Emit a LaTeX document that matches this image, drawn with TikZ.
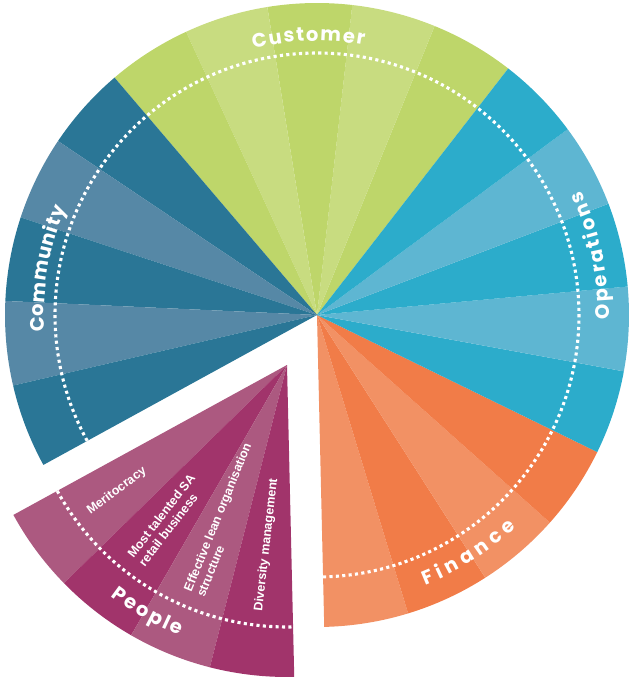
\documentclass[tikz,border=0pt]{standalone}
\usepackage{fontspec}
\setmainfont{Liberation Sans}
\newfontfamily\labelfont{Poppins}
\usetikzlibrary{decorations.text}
\definecolor{custdark}{HTML}{BED66A}
\definecolor{custlight}{HTML}{C8DC80}
\definecolor{comdark}{HTML}{2A7696}
\definecolor{comlight}{HTML}{5688A6}
\definecolor{ppldark}{HTML}{A1346B}
\definecolor{ppllight}{HTML}{AC5980}
\definecolor{findark}{HTML}{F17C48}
\definecolor{finlight}{HTML}{F29164}
\definecolor{opsdark}{HTML}{2CACCB}
\definecolor{opslight}{HTML}{5EB6D2}
\begin{document}
\begin{tikzpicture}[line join=bevel,
  ring/.style={draw=white, line width=3.1bp, dash pattern=on 3.1bp off 3.3bp},
  arclabel/.style={decorate, decoration={text along path, text align={fit to path},
    text={|\labelfont\bfseries\fontsize{19.5bp}{19.5bp}\selectfont\color{white}|#1}}},
  smalltxt/.style={font=\bfseries\fontsize{12.5bp}{14bp}\selectfont, text=white,
    inner sep=0pt, align=left, anchor=west}]
  \useasboundingbox (-317bp,-365bp) rectangle (316bp,315bp);
  \coordinate (hub) at (0bp,0bp);
  \coordinate (pplhub) at (-30bp,-50bp);
%%
  % Sector: Customer
  \fill[custdark] (hub) -- (52.2:312bp) arc[start angle=52.2, end angle=67.85, radius=312bp] -- cycle;
  \fill[custlight] (hub) -- (67.85:312bp) arc[start angle=67.85, end angle=83.5, radius=312bp] -- cycle;
  \fill[custdark] (hub) -- (83.5:312bp) arc[start angle=83.5, end angle=99.16, radius=312bp] -- cycle;
  \fill[custlight] (hub) -- (99.16:312bp) arc[start angle=99.16, end angle=114.81, radius=312bp] -- cycle;
  \fill[custdark] (hub) -- (114.81:312bp) arc[start angle=114.81, end angle=130.46, radius=312bp] -- cycle;
  % Sector: Community
  \fill[comdark] (hub) -- (130.46:312bp) arc[start angle=130.46, end angle=146.11, radius=312bp] -- cycle;
  \fill[comlight] (hub) -- (146.11:312bp) arc[start angle=146.11, end angle=161.77, radius=312bp] -- cycle;
  \fill[comdark] (hub) -- (161.77:312bp) arc[start angle=161.77, end angle=177.42, radius=312bp] -- cycle;
  \fill[comlight] (hub) -- (177.42:312bp) arc[start angle=177.42, end angle=193.07, radius=312bp] -- cycle;
  \fill[comdark] (hub) -- (193.07:312bp) arc[start angle=193.07, end angle=208.72, radius=312bp] -- cycle;
  % Sector: Finance
  \fill[finlight] (hub) -- (-88.67:312bp) arc[start angle=-88.67, end angle=-73.02, radius=312bp] -- cycle;
  \fill[findark] (hub) -- (-73.02:312bp) arc[start angle=-73.02, end angle=-57.37, radius=312bp] -- cycle;
  \fill[finlight] (hub) -- (-57.37:312bp) arc[start angle=-57.37, end angle=-41.71, radius=312bp] -- cycle;
  \fill[findark] (hub) -- (-41.71:312bp) arc[start angle=-41.71, end angle=-26.06, radius=312bp] -- cycle;
  % Sector: Operations
  \fill[opsdark] (hub) -- (-26.06:312bp) arc[start angle=-26.06, end angle=-10.41, radius=312bp] -- cycle;
  \fill[opslight] (hub) -- (-10.41:312bp) arc[start angle=-10.41, end angle=5.24, radius=312bp] -- cycle;
  \fill[opsdark] (hub) -- (5.24:312bp) arc[start angle=5.24, end angle=20.89, radius=312bp] -- cycle;
  \fill[opslight] (hub) -- (20.89:312bp) arc[start angle=20.89, end angle=36.55, radius=312bp] -- cycle;
  \fill[opsdark] (hub) -- (36.55:312bp) arc[start angle=36.55, end angle=52.2, radius=312bp] -- cycle;
  % Ring and labels of the four main sectors
  \draw[ring] (-88.67:262bp) arc[start angle=-88.67, end angle=208.72, radius=262bp];
  \path[arclabel=Customer] (103.4:274bp) arc[start angle=103.4, end angle=80.1, radius=274bp];
  \path[arclabel=Community] (183.5:273bp) arc[start angle=183.5, end angle=157, radius=273bp];
  \path[arclabel=Operations] (-0.8:292bp) arc[start angle=-0.8, end angle=25.2, radius=292bp];
  \path[arclabel=Finance] (-68.2:291bp) arc[start angle=-68.2, end angle=-46.8, radius=291bp];
  % Sector: People (pulled out)
\begin{scope}[shift={(pplhub)}]
  \fill[ppllight] (0bp,0bp) -- (208.72:312bp) arc[start angle=208.72, end angle=224.37, radius=312bp] -- cycle;
  \fill[ppldark] (0bp,0bp) -- (224.37:312bp) arc[start angle=224.37, end angle=240.03, radius=312bp] -- cycle;
  \fill[ppllight] (0bp,0bp) -- (240.03:312bp) arc[start angle=240.03, end angle=255.68, radius=312bp] -- cycle;
  \fill[ppldark] (0bp,0bp) -- (255.68:312bp) arc[start angle=255.68, end angle=271.33, radius=312bp] -- cycle;
  \draw[ring] (208.72:262bp) arc[start angle=208.72, end angle=271.33, radius=262bp];
  \path[arclabel=People] (232.6:291bp) arc[start angle=232.6, end angle=248.4, radius=291bp];
  \node[smalltxt, rotate=36.5] (meritocracy) at (216.5:247bp) {Meritocracy};
  \node[smalltxt, rotate=52.2] (talent) at (232.2:247bp) {Most talented SA\\retail business};
  \node[smalltxt, rotate=67.8] (lean) at (247.8:247bp) {Effective lean organisation\\structure};
  \node[smalltxt, rotate=83.5] (diversity) at (263.5:248bp) {Diversity management};
\end{scope}
%
\end{tikzpicture}
\end{document}
